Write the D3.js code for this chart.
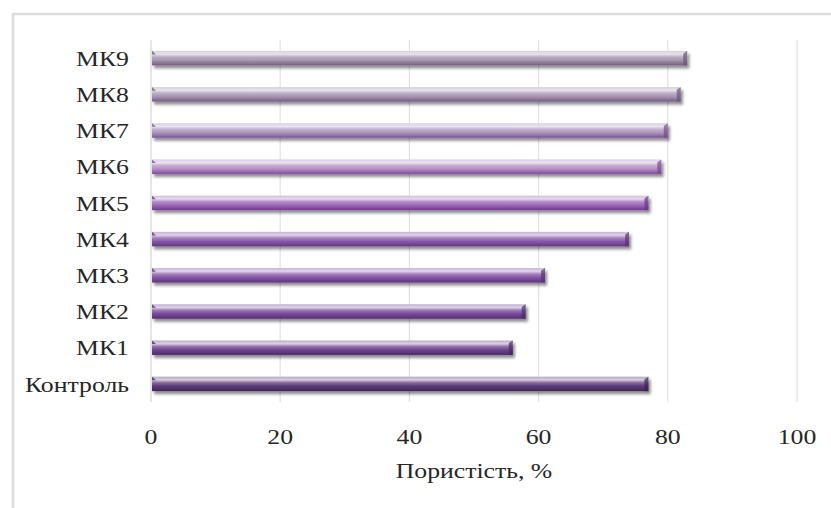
<!DOCTYPE html>
<html>
<head>
<meta charset="utf-8">
<script src="https://cdn.jsdelivr.net/npm/d3@7"></script>
<style>
  html, body { margin: 0; padding: 0; background: #fff; }
  svg { display: block; }
  text { font-family: "Liberation Serif", "Times New Roman", serif; fill: #262626; }
</style>
</head>
<body>
<svg id="chart" width="831" height="508"></svg>
<script>
// Porosity of samples, %
const categories = ["МК9", "МК8", "МК7", "МК6", "МК5", "МК4", "МК3", "МК2", "МК1", "Контроль"];
const porosity   = [83, 82, 80, 79, 77, 74, 61, 58, 56, 77];
const barColors  = ["#a694b0", "#a895b4", "#ad94bf", "#b48fc8", "#9d68bb", "#8b58ad", "#8553a8", "#7a4a9d", "#6e4391", "#5d3a7a"];
const xTicks     = [0, 20, 40, 60, 80, 100];
const xTitle     = "Пористість, %";

const W = 831, H = 508;
const margin = { left: 151, right: 34, top: 40, bottom: 106 };
const fontSize = 22;
const stretch = 1.17; // labels are set slightly wide

const svg = d3.select("#chart");
const defs = svg.append("defs");

// soft drop shadow under each bar
const shadow = defs.append("filter").attr("id", "barShadow")
  .attr("x", "-5%").attr("y", "-50%").attr("width", "110%").attr("height", "220%");
shadow.append("feGaussianBlur").attr("in", "SourceAlpha").attr("stdDeviation", 1.6).attr("result", "b");
shadow.append("feOffset").attr("in", "b").attr("dx", 1.5).attr("dy", 2.5).attr("result", "o");
shadow.append("feComponentTransfer").attr("in", "o").attr("result", "s")
  .append("feFuncA").attr("type", "linear").attr("slope", 0.45);
const merge = shadow.append("feMerge");
merge.append("feMergeNode").attr("in", "s");
merge.append("feMergeNode").attr("in", "SourceGraphic");

// cylinder-like vertical gradient per bar
barColors.forEach((c, i) => {
  const base = d3.hsl(c);
  const g = defs.append("linearGradient").attr("id", "grad" + i)
    .attr("x1", 0).attr("y1", 0).attr("x2", 0).attr("y2", 1);
  g.append("stop").attr("offset", "0%").attr("stop-color", d3.interpolateRgb(c, "#fff")(0.55));
  g.append("stop").attr("offset", "22%").attr("stop-color", d3.interpolateRgb(c, "#fff")(0.75));
  g.append("stop").attr("offset", "42%").attr("stop-color", d3.interpolateRgb(c, "#fff")(0.25));
  g.append("stop").attr("offset", "65%").attr("stop-color", c);
  g.append("stop").attr("offset", "100%").attr("stop-color", base.darker(1.1).formatHex());
});

// chart frame
svg.append("rect")
  .attr("x", 13).attr("y", 14).attr("width", W).attr("height", H)
  .attr("fill", "none").attr("stroke", "#dcdcdc").attr("stroke-width", 2.5);

const x = d3.scaleLinear().domain([0, 100]).range([margin.left, W - margin.right]);
const y = d3.scaleBand().domain(categories).range([margin.top, H - margin.bottom]).paddingInner(0.6).paddingOuter(0.3);

const plotTop = margin.top, plotBottom = H - margin.bottom;

// vertical gridlines
svg.append("g").selectAll("line").data(xTicks.slice(1)).join("line")
  .attr("x1", d => x(d)).attr("x2", d => x(d))
  .attr("y1", plotTop).attr("y2", plotBottom)
  .attr("stroke", "#e2e2e2").attr("stroke-width", 1.2);

// category axis line
svg.append("line")
  .attr("x1", x(0)).attr("x2", x(0)).attr("y1", plotTop).attr("y2", plotBottom)
  .attr("stroke", "#d4d4d4").attr("stroke-width", 1.2);

// bars
const bars = svg.append("g").selectAll("g").data(categories).join("g")
  .attr("filter", "url(#barShadow)");
bars.append("rect")
  .attr("x", x(0) + 1)
  .attr("y", d => y(d))
  .attr("width", (d, i) => x(porosity[i]) - x(0) - 1)
  .attr("height", y.bandwidth())
  .attr("fill", (d, i) => `url(#grad${i})`);
// bevelled ends of the bars
bars.append("path")
  .attr("d", (d, i) => {
    const xe = x(porosity[i]), y0 = y(d), h = y.bandwidth(), b = 4;
    return `M${xe - b},${y0 + b * 0.7} L${xe},${y0} L${xe},${y0 + h} L${xe - b},${y0 + h} Z`;
  })
  .attr("fill", (d, i) => d3.hsl(barColors[i]).darker(1.3).formatHex())
  .attr("opacity", 0.7);
// small bevel at bar starts
bars.append("path")
  .attr("d", d => {
    const xs = x(0) + 1, y0 = y(d), b = 4;
    return `M${xs},${y0} L${xs + b},${y0 + b * 0.9} L${xs},${y0 + b * 0.9} Z`;
  })
  .attr("fill", (d, i) => d3.hsl(barColors[i]).darker(1.0).formatHex())
  .attr("opacity", 0.8);

// category labels
svg.append("g").selectAll("text").data(categories).join("text")
  .attr("transform", d => `translate(129,${y(d) + y.bandwidth() / 2}) scale(${stretch},1)`)
  .attr("dy", "0.35em")
  .attr("text-anchor", "end")
  .attr("font-size", fontSize)
  .text(d => d);

// value axis labels
svg.append("g").selectAll("text").data(xTicks).join("text")
  .attr("transform", d => `translate(${x(d)},444) scale(${stretch},1)`)
  .attr("text-anchor", "middle")
  .attr("font-size", fontSize)
  .text(d => d);

// axis title
svg.append("text")
  .attr("transform", `translate(${(x(0) + x(100)) / 2},478) scale(${stretch},1)`)
  .attr("text-anchor", "middle")
  .attr("font-size", fontSize)
  .text(xTitle);
</script>
</body>
</html>
